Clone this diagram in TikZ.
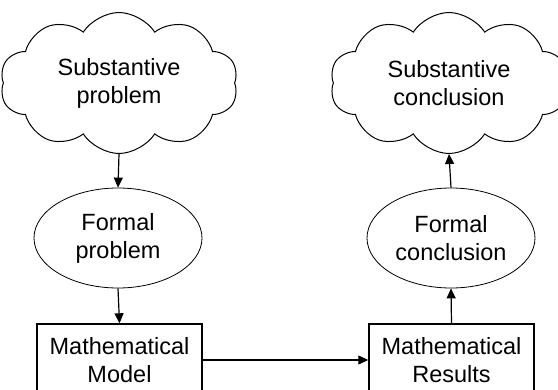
\documentclass[tikz,border=0pt]{standalone}
\usepackage{fontspec}
\setmainfont{Liberation Sans}
\usetikzlibrary{shapes.symbols,shapes.geometric,arrows.meta}
\begin{document}
\begin{tikzpicture}[x=1pt, y=1pt,
  txt/.style={align=center, font=\fontsize{23.5}{28}\selectfont, inner sep=0pt},
  thought/.style={txt, draw, line width=1pt, cloud, cloud puffs=10, cloud puff arc=115, cloud ignores aspect, minimum width=238pt, minimum height=141pt},
  formal/.style={txt, draw, line width=0.8pt, ellipse, minimum width=168pt, minimum height=100pt},
  mathbox/.style={txt, draw, line width=1.4pt, rectangle, minimum width=165pt, minimum height=72pt},
  link/.style={line width=1.2pt, -{Triangle[length=10pt, width=9pt]}}]
\useasboundingbox (0,0) rectangle (558,-389);
\node[thought] (subprob) at (119,-83) {Substantive\\problem};
\node[thought] (subconc) at (449,-83) {Substantive\\conclusion};
\node[formal] (formprob) at (118,-238) {Formal\\problem};
\node[formal] (formconc) at (451,-238) {Formal\\conclusion};
\node[mathbox] (model) at (119.5,-360) {Mathematical\\Model};
\node[mathbox] (results) at (451.5,-360) {Mathematical\\Results};
\draw[link] (subprob.south) -- (formprob.north);
\draw[link] (formprob.south) -- (model.north);
\draw[link] (model.east) -- (results.west);
\draw[link] (results.north) -- (formconc.south);
\draw[link] (formconc.north) -- (subconc.south);
\end{tikzpicture}
\end{document}
